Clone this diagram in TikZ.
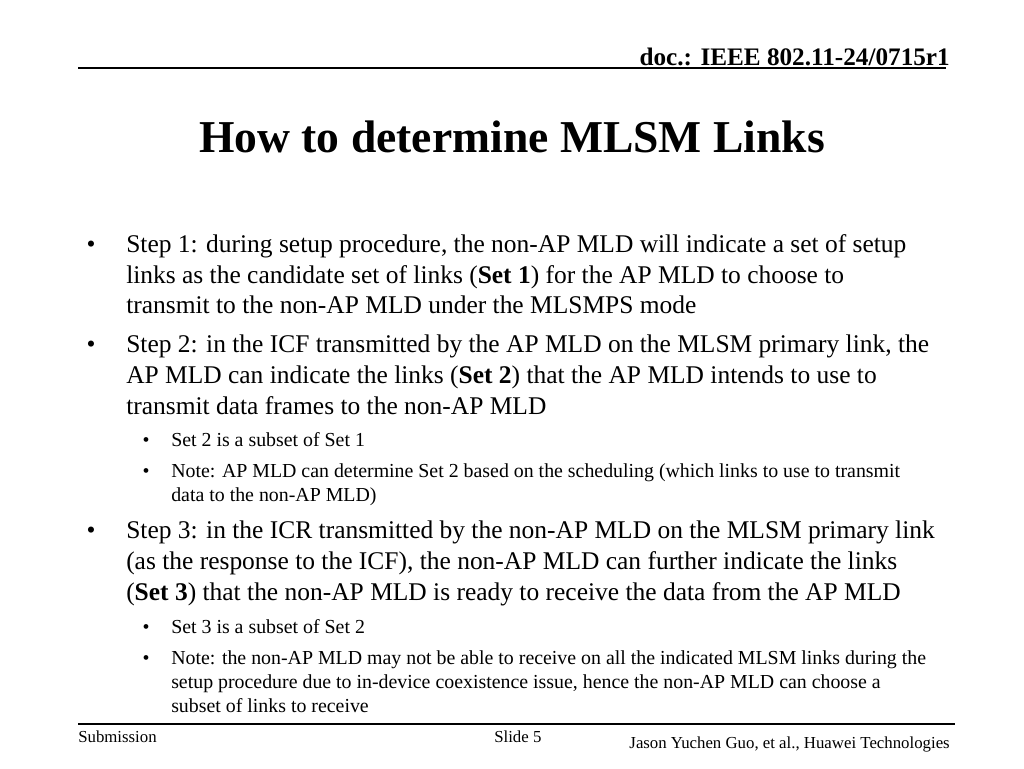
\documentclass[tikz,border=0pt]{standalone}
\usepackage{fontspec}
\setmainfont{Liberation Serif}
\begin{document}
\begin{tikzpicture}[x=0.75pt,y=-0.75pt,
  t/.style={anchor=base west,inner sep=0pt,font=\fontsize{19.1}{21}\selectfont},
  s/.style={anchor=base west,inner sep=0pt,font=\fontsize{14.9}{16}\selectfont},
  b/.style={anchor=base,inner sep=0pt,font=\fontsize{19.1}{21}\selectfont},
  sb/.style={anchor=base,inner sep=0pt,font=\fontsize{14.9}{16}\selectfont},
  ft/.style={inner sep=0pt,font=\fontsize{12.6}{14}\selectfont}]
\useasboundingbox (0,0) rectangle (1024,768);
\node[anchor=base east,inner sep=0pt,font=\fontsize{18.9}{21}\selectfont\bfseries] (hd) at (950,65) {doc.: IEEE 802.11-24/0715r1};
\draw[line width=0.9pt] (78,68) -- (946,68);
\node[anchor=base,inner sep=0pt,font=\fontsize{34.2}{38}\selectfont\bfseries] (ti) at (512,152) {How to determine MLSM Links};
% Step 1
\node[b] (b1) at (91,252) {•};
\node[t] (l1) at (126,252) {Step 1: during setup procedure, the non-AP MLD will indicate a set of setup};
\node[t] (l2) at (126,283) {links as the candidate set of links (\textbf{Set 1}) for the AP MLD to choose to};
\node[t] (l3) at (126,313) {transmit to the non-AP MLD under the MLSMPS mode};
% Step 2
\node[b] (b2) at (91,352) {•};
\node[t] (l4) at (126,352) {Step 2: in the ICF transmitted by the AP MLD on the MLSM primary link, the};
\node[t] (l5) at (126,383) {AP MLD can indicate the links (\textbf{Set 2}) that the AP MLD intends to use to};
\node[t] (l6) at (126,414) {transmit data frames to the non-AP MLD};
\node[sb] (b3) at (146,446) {•};
\node[s] (l7) at (171,446) {Set 2 is a subset of Set 1};
\node[sb] (b4) at (146,477) {•};
\node[s] (l8) at (171,477) {Note: AP MLD can determine Set 2 based on the scheduling (which links to use to transmit};
\node[s] (l9) at (171,501) {data to the non-AP MLD)};
% Step 3
\node[b] (b5) at (91,538) {•};
\node[t] (l10) at (126,538) {Step 3: in the ICR transmitted by the non-AP MLD on the MLSM primary link};
\node[t] (l11) at (126,569) {(as the response to the ICF), the non-AP MLD can further indicate the links};
\node[t] (l12) at (126,600) {(\textbf{Set 3}) that the non-AP MLD is ready to receive the data from the AP MLD};
\node[sb] (b6) at (146,633) {•};
\node[s] (l13) at (171,633) {Set 3 is a subset of Set 2};
\node[sb] (b7) at (146,664) {•};
\node[s] (l14) at (171,664) {Note: the non-AP MLD may not be able to receive on all the indicated MLSM links during the};
\node[s] (l15) at (171,688) {setup procedure due to in-device coexistence issue, hence the non-AP MLD can choose a};
\node[s] (l16) at (171,712) {subset of links to receive};
\draw[line width=0.9pt] (78,724) -- (955,724);
\node[ft,anchor=base west] (f1) at (78,742) {Submission};
\node[ft,anchor=base west] (f2) at (494,742) {Slide 5};
\node[ft,anchor=base east] (f3) at (950,748) {Jason Yuchen Guo, et al., Huawei Technologies};
\end{tikzpicture}
\end{document}
